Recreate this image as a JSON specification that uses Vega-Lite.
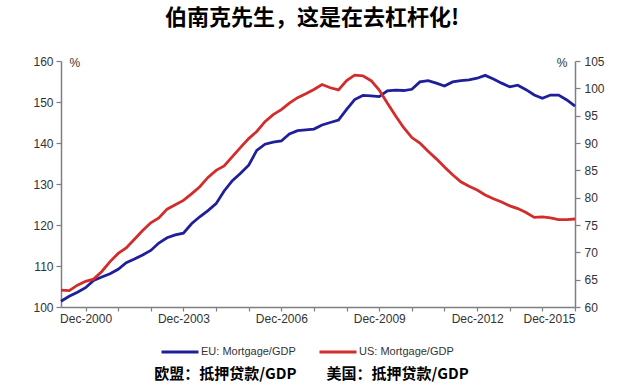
{
  "$schema": "https://vega.github.io/schema/vega-lite/v6.json",
  "width": 514,
  "height": 246,
  "autosize": "none",
  "padding": {"left": 61, "top": 61, "right": 65, "bottom": 78},
  "background": "white",
  "title": {
    "text": "伯南克先生，这是在去杠杆化!",
    "font": "Noto Sans CJK SC",
    "fontSize": 22,
    "fontWeight": "bold",
    "color": "#000000",
    "anchor": "middle",
    "frame": "group",
    "dx": -6,
    "offset": 25
  },
  "config": {
    "view": {"stroke": null},
    "axis": {
      "labelFont": "Liberation Sans",
      "labelFontSize": 12,
      "labelColor": "#333333",
      "domainColor": "#7f7f7f",
      "domainWidth": 1.5,
      "tickColor": "#7f7f7f",
      "tickWidth": 1.2,
      "tickSize": 5,
      "grid": false,
      "titleFont": "Liberation Sans",
      "titleFontWeight": "normal",
      "titleFontSize": 12,
      "titleColor": "#333333"
    },
    "legend": {
      "labelFont": "Liberation Sans",
      "labelFontSize": 11,
      "labelColor": "#333333"
    }
  },
  "data": {
    "values": [
      {"date": "2000-03-01", "eu": 101.4, "us": 63.1},
      {"date": "2000-06-01", "eu": 102.6, "us": 63.0},
      {"date": "2000-09-01", "eu": 103.6, "us": 64.0},
      {"date": "2000-12-01", "eu": 104.7, "us": 64.7},
      {"date": "2001-03-01", "eu": 106.5, "us": 65.1},
      {"date": "2001-06-01", "eu": 107.3, "us": 66.5},
      {"date": "2001-09-01", "eu": 108.1, "us": 68.3},
      {"date": "2001-12-01", "eu": 109.2, "us": 69.8},
      {"date": "2002-03-01", "eu": 110.8, "us": 70.8},
      {"date": "2002-06-01", "eu": 111.7, "us": 72.4},
      {"date": "2002-09-01", "eu": 112.7, "us": 74.0},
      {"date": "2002-12-01", "eu": 113.8, "us": 75.4},
      {"date": "2003-03-01", "eu": 115.6, "us": 76.3},
      {"date": "2003-06-01", "eu": 116.9, "us": 77.9},
      {"date": "2003-09-01", "eu": 117.6, "us": 78.7},
      {"date": "2003-12-01", "eu": 118.0, "us": 79.5},
      {"date": "2004-03-01", "eu": 120.3, "us": 80.7},
      {"date": "2004-06-01", "eu": 122.0, "us": 82.0},
      {"date": "2004-09-01", "eu": 123.5, "us": 83.7},
      {"date": "2004-12-01", "eu": 125.2, "us": 85.0},
      {"date": "2005-03-01", "eu": 128.3, "us": 85.8},
      {"date": "2005-06-01", "eu": 130.8, "us": 87.5},
      {"date": "2005-09-01", "eu": 132.6, "us": 89.2},
      {"date": "2005-12-01", "eu": 134.6, "us": 90.8},
      {"date": "2006-03-01", "eu": 138.2, "us": 92.1},
      {"date": "2006-06-01", "eu": 139.7, "us": 93.9},
      {"date": "2006-09-01", "eu": 140.2, "us": 95.2},
      {"date": "2006-12-01", "eu": 140.5, "us": 96.1},
      {"date": "2007-03-01", "eu": 142.2, "us": 97.3},
      {"date": "2007-06-01", "eu": 143.0, "us": 98.3},
      {"date": "2007-09-01", "eu": 143.2, "us": 99.0},
      {"date": "2007-12-01", "eu": 143.4, "us": 99.8},
      {"date": "2008-03-01", "eu": 144.4, "us": 100.7},
      {"date": "2008-06-01", "eu": 145.0, "us": 100.1},
      {"date": "2008-09-01", "eu": 145.6, "us": 99.7},
      {"date": "2008-12-01", "eu": 148.2, "us": 101.4},
      {"date": "2009-03-01", "eu": 150.6, "us": 102.4},
      {"date": "2009-06-01", "eu": 151.6, "us": 102.3},
      {"date": "2009-09-01", "eu": 151.5, "us": 101.4},
      {"date": "2009-12-01", "eu": 151.3, "us": 99.7},
      {"date": "2010-03-01", "eu": 152.7, "us": 97.3},
      {"date": "2010-06-01", "eu": 152.9, "us": 95.0},
      {"date": "2010-09-01", "eu": 152.8, "us": 92.8},
      {"date": "2010-12-01", "eu": 153.1, "us": 91.0},
      {"date": "2011-03-01", "eu": 154.9, "us": 90.0},
      {"date": "2011-06-01", "eu": 155.2, "us": 88.5},
      {"date": "2011-09-01", "eu": 154.6, "us": 87.1},
      {"date": "2011-12-01", "eu": 153.9, "us": 85.6},
      {"date": "2012-03-01", "eu": 154.9, "us": 84.2},
      {"date": "2012-06-01", "eu": 155.2, "us": 82.9},
      {"date": "2012-09-01", "eu": 155.4, "us": 82.1},
      {"date": "2012-12-01", "eu": 155.8, "us": 81.4},
      {"date": "2013-03-01", "eu": 156.5, "us": 80.5},
      {"date": "2013-06-01", "eu": 155.6, "us": 79.8},
      {"date": "2013-09-01", "eu": 154.6, "us": 79.2},
      {"date": "2013-12-01", "eu": 153.7, "us": 78.5},
      {"date": "2014-03-01", "eu": 154.1, "us": 78.0},
      {"date": "2014-06-01", "eu": 153.0, "us": 77.3},
      {"date": "2014-09-01", "eu": 151.7, "us": 76.4},
      {"date": "2014-12-01", "eu": 150.9, "us": 76.5},
      {"date": "2015-03-01", "eu": 151.7, "us": 76.3},
      {"date": "2015-06-01", "eu": 151.7, "us": 76.0},
      {"date": "2015-09-01", "eu": 150.5, "us": 76.0},
      {"date": "2015-12-01", "eu": 149.0, "us": 76.1}
    ]
  },
  "encoding": {
    "x": {
      "field": "date",
      "type": "temporal",
      "scale": {
        "type": "utc",
        "domain": [
          {"year": 2000, "month": 3, "date": 1, "utc": true},
          {"year": 2015, "month": 12, "date": 1, "utc": true}
        ]
      },
      "axis": {
        "values": [
          {"year": 2000, "month": 12, "date": 1, "utc": true},
          {"year": 2001, "month": 12, "date": 1, "utc": true},
          {"year": 2002, "month": 12, "date": 1, "utc": true},
          {"year": 2003, "month": 12, "date": 1, "utc": true},
          {"year": 2004, "month": 12, "date": 1, "utc": true},
          {"year": 2005, "month": 12, "date": 1, "utc": true},
          {"year": 2006, "month": 12, "date": 1, "utc": true},
          {"year": 2007, "month": 12, "date": 1, "utc": true},
          {"year": 2008, "month": 12, "date": 1, "utc": true},
          {"year": 2009, "month": 12, "date": 1, "utc": true},
          {"year": 2010, "month": 12, "date": 1, "utc": true},
          {"year": 2011, "month": 12, "date": 1, "utc": true},
          {"year": 2012, "month": 12, "date": 1, "utc": true},
          {"year": 2013, "month": 12, "date": 1, "utc": true},
          {"year": 2014, "month": 12, "date": 1, "utc": true},
          {"year": 2015, "month": 12, "date": 1, "utc": true}
        ],
        "labelExpr": "utcyear(datum.value) % 3 == 2 ? utcFormat(datum.value, '%b-%Y') : ''",
        "labelPadding": 2,
        "labelOverlap": false,
        "tickSize": 4,
        "title": "欧盟：抵押贷款/GDP　　美国：抵押贷款/GDP",
        "titleFont": "Noto Sans CJK SC",
        "titleFontSize": 15,
        "titleFontWeight": "bold",
        "titleColor": "#000000",
        "titleAlign": "center",
        "titleBaseline": "middle",
        "titleX": 250,
        "titleY": 66
      }
    }
  },
  "layer": [
    {
      "mark": {"type": "line", "strokeWidth": 2.8},
      "encoding": {
        "y": {
          "field": "eu",
          "type": "quantitative",
          "scale": {"domain": [100, 160], "nice": false, "zero": false},
          "axis": {
            "orient": "left",
            "values": [100, 110, 120, 130, 140, 150, 160],
            "labelPadding": 3,
            "title": "%",
            "titleAngle": 0,
            "titleX": 8,
            "titleY": 1,
            "titleAlign": "left",
            "titleBaseline": "middle"
          }
        },
        "color": {
          "datum": "EU: Mortgage/GDP",
          "type": "nominal",
          "scale": {
            "domain": ["EU: Mortgage/GDP", "US: Mortgage/GDP"],
            "range": ["#1f1f99", "#d42b2b"]
          },
          "legend": {
            "title": null,
            "orient": "none",
            "direction": "horizontal",
            "legendX": 99,
            "legendY": 271,
            "symbolType": "stroke",
            "symbolSize": 1369,
            "symbolStrokeWidth": 3,
            "labelOffset": 1,
            "columnPadding": 17
          }
        }
      }
    },
    {
      "mark": {"type": "line", "strokeWidth": 2.8},
      "encoding": {
        "y": {
          "field": "us",
          "type": "quantitative",
          "scale": {"domain": [60, 105], "nice": false, "zero": false},
          "axis": {
            "orient": "right",
            "values": [60, 65, 70, 75, 80, 85, 90, 95, 100, 105],
            "labelPadding": 4,
            "title": "%",
            "titleAngle": 0,
            "titleX": -8,
            "titleY": 1,
            "titleAlign": "right",
            "titleBaseline": "middle"
          }
        },
        "color": {"datum": "US: Mortgage/GDP", "type": "nominal"}
      }
    }
  ],
  "resolve": {"scale": {"y": "independent"}}
}
